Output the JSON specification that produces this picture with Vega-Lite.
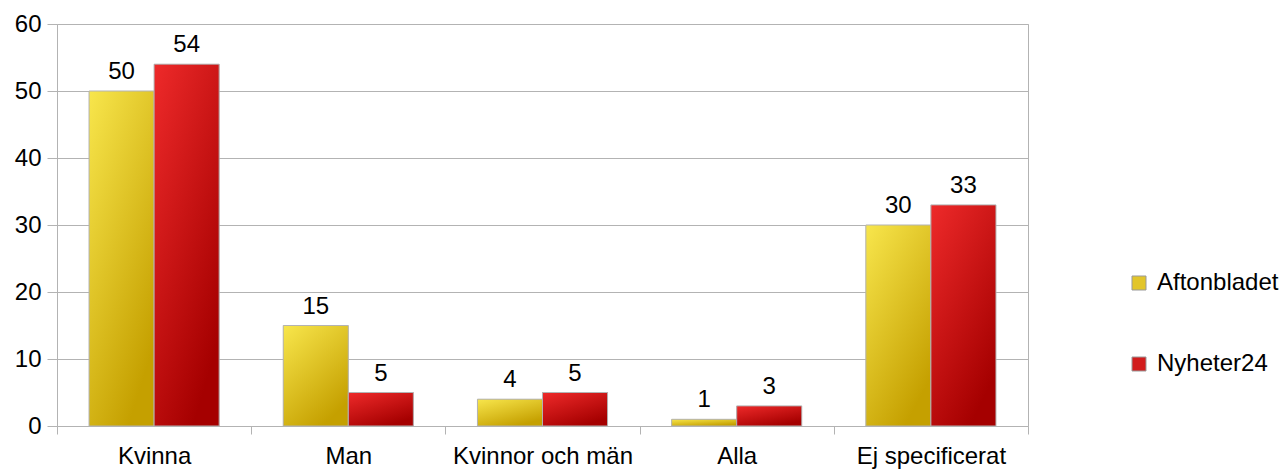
{
  "$schema": "https://vega.github.io/schema/vega-lite/v6.json",
  "width": 971,
  "height": 402,
  "autosize": {"type": "none"},
  "padding": {"left": 57, "top": 24, "right": 256, "bottom": 45},
  "background": "white",
  "config": {
    "font": "Liberation Sans",
    "view": {"stroke": "#b3b3b3", "strokeWidth": 1},
    "axis": {"labelFont": "Liberation Sans", "labelColor": "#000000", "titleFont": "Liberation Sans"}
  },
  "data": {
    "values": [
      {"kategori": "Kvinna", "serie": "Aftonbladet", "antal": 50},
      {"kategori": "Kvinna", "serie": "Nyheter24", "antal": 54},
      {"kategori": "Man", "serie": "Aftonbladet", "antal": 15},
      {"kategori": "Man", "serie": "Nyheter24", "antal": 5},
      {"kategori": "Kvinnor och män", "serie": "Aftonbladet", "antal": 4},
      {"kategori": "Kvinnor och män", "serie": "Nyheter24", "antal": 5},
      {"kategori": "Alla", "serie": "Aftonbladet", "antal": 1},
      {"kategori": "Alla", "serie": "Nyheter24", "antal": 3},
      {"kategori": "Ej specificerat", "serie": "Aftonbladet", "antal": 30},
      {"kategori": "Ej specificerat", "serie": "Nyheter24", "antal": 33}
    ]
  },
  "encoding": {
    "x": {
      "field": "kategori",
      "type": "nominal",
      "sort": null,
      "scale": {"paddingInner": 0, "paddingOuter": 0},
      "axis": {
        "title": null,
        "labelAngle": 0,
        "labelFontSize": 24,
        "labelPadding": 10,
        "labelLimit": 0,
        "tickBand": "extent",
        "tickSize": 8,
        "tickColor": "#b3b3b3",
        "domain": false,
        "grid": false
      }
    },
    "xOffset": {
      "field": "serie",
      "type": "nominal",
      "scale": {"paddingInner": 0, "paddingOuter": 0.4925}
    },
    "y": {
      "field": "antal",
      "type": "quantitative",
      "scale": {"domain": [0, 60]},
      "axis": {
        "title": null,
        "values": [0, 10, 20, 30, 40, 50, 60],
        "labelFontSize": 24,
        "labelPadding": 6,
        "tickSize": 10,
        "tickColor": "#b3b3b3",
        "gridColor": "#b3b3b3",
        "domain": false
      }
    }
  },
  "layer": [
    {
      "mark": {"type": "bar"},
      "encoding": {
        "fill": {
          "field": "serie",
          "type": "nominal",
          "scale": {"domain": ["Aftonbladet", "Nyheter24"], "range": ["#e2c52a", "#d21c1c"]},
          "legend": {
            "title": null,
            "orient": "none",
            "legendX": 1070,
            "legendY": 247,
            "padding": 0,
            "symbolType": "square",
            "symbolSize": 196,
            "symbolStrokeColor": "#999999",
            "symbolStrokeWidth": 1,
            "labelFontSize": 24,
            "labelFont": "Liberation Sans",
            "labelColor": "#000000",
            "labelOffset": 6,
            "rowPadding": 57
          }
        }
      }
    },
    {
      "mark": {"type": "bar", "stroke": "#b3b3b3", "strokeWidth": 1},
      "encoding": {
        "fill": {
          "condition": {
            "test": "datum.serie === 'Aftonbladet'",
            "value": {
              "gradient": "linear", "x1": 0, "y1": 0, "x2": 0.6, "y2": 1,
              "stops": [{"offset": 0, "color": "#f8e64c"}, {"offset": 1, "color": "#c5a000"}]
            }
          },
          "value": {
            "gradient": "linear", "x1": 0, "y1": 0, "x2": 0.6, "y2": 1,
            "stops": [{"offset": 0, "color": "#ee2a2a"}, {"offset": 1, "color": "#a50000"}]
          }
        }
      }
    },
    {
      "mark": {"type": "text", "baseline": "alphabetic", "dy": -12, "fontSize": 24, "font": "Liberation Sans", "color": "#000000"},
      "encoding": {
        "text": {"field": "antal", "type": "quantitative"}
      }
    }
  ]
}
